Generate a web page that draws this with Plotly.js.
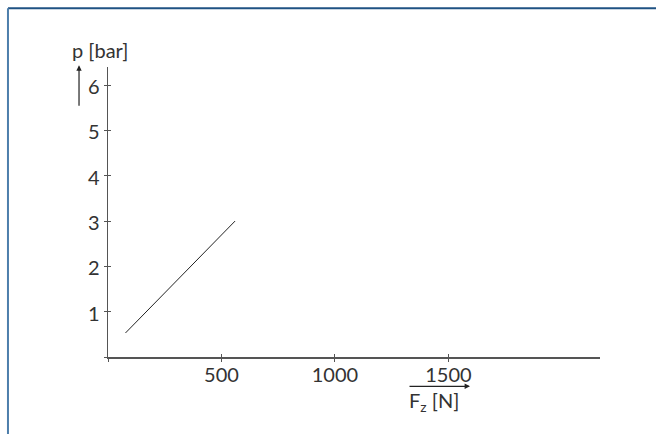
<!DOCTYPE html>
<html>
<head>
<meta charset="utf-8">
<script src="https://cdn.plot.ly/plotly-3.0.1.min.js"></script>
<style>html,body{margin:0;padding:0;background:#fff;}#chart{width:656px;height:434px;}</style>
</head>
<body>
<div id="chart"></div>
<script>
// Data
const forceN = [77, 560];
const pressureBar = [0.53, 3.0];
const xTickVals = [0, 500, 1000, 1500];
const xTickText = ['', '500', '1000', '1500'];
const yTickVals = [0, 1, 2, 3, 4, 5, 6];
const yTickText = ['', '1', '2', '3', '4', '5', '6'];
const yLabel = 'p [bar]';
const xLabel = 'F<sub>z</sub> [N]';

const FONT = 'Lato, "Liberation Sans", sans-serif';
const TXT = '#333333';
const AX = '#555555';

const trace = {
  x: forceN, y: pressureBar, type: 'scatter', mode: 'lines',
  line: {color: '#222222', width: 1}, hoverinfo: 'skip', showlegend: false
};

const baseAxis = {
  showgrid: false, zeroline: false, showline: true, linecolor: AX, linewidth: 1.5,
  ticks: 'outside', ticklen: 3, tickwidth: 1, tickcolor: AX,
  tickmode: 'array', fixedrange: true,
  tickfont: {family: FONT, size: 20, color: TXT}
};

const layout = {
  width: 656, height: 434,
  margin: {l: 108, r: 56, t: 67, b: 77, pad: 0},
  paper_bgcolor: '#ffffff', plot_bgcolor: '#ffffff',
  font: {family: FONT, color: TXT},
  xaxis: Object.assign({}, baseAxis, {
    range: [0, 2168], tickvals: xTickVals, ticktext: xTickText,
    ticklabelstandoff: -4
  }),
  yaxis: Object.assign({}, baseAxis, {
    range: [0, 6.4], tickvals: yTickVals, ticktext: yTickText,
    ticklabelshift: 2, ticklabelstandoff: 0
  }),
  xaxis2: {
    overlaying: 'x', range: [0, 2168], tickmode: 'array', tickvals: xTickVals,
    showticklabels: false, ticks: 'inside', ticklen: 3, tickwidth: 1, tickcolor: AX,
    showgrid: false, zeroline: false, showline: false, fixedrange: true, anchor: 'y'
  },
  yaxis2: {
    overlaying: 'y', range: [0, 6.4], tickmode: 'array', tickvals: yTickVals,
    showticklabels: false, ticks: 'inside', ticklen: 3, tickwidth: 1, tickcolor: AX,
    showgrid: false, zeroline: false, showline: false, fixedrange: true, anchor: 'x'
  },
  shapes: [
    {type: 'line', xref: 'paper', yref: 'paper', x0: -0.2033, x1: 1.12, y0: 1.2024, y1: 1.2024,
     line: {color: '#1f5283', width: 2}, layer: 'above'},
    {type: 'line', xref: 'paper', yref: 'paper', x0: -0.2033, x1: -0.2033, y0: 1.2024, y1: -0.28,
     line: {color: '#4d7eab', width: 2}, layer: 'above'}
  ],
  annotations: [
    {xref: 'paper', yref: 'paper', x: -0.0163, y: 1.058, text: yLabel, showarrow: false,
     xanchor: 'center', yanchor: 'middle', font: {family: FONT, size: 20, color: TXT}},
    {xref: 'paper', yref: 'paper', x: -0.0589, y: 1.006, text: '', showarrow: true,
     ax: 0, ay: 42, arrowhead: 2, arrowsize: 0.9, arrowwidth: 1.2, arrowcolor: '#222222', standoff: 0, startstandoff: 0},
    {xref: 'paper', yref: 'paper', x: 0.6626, y: -0.1528, text: xLabel, showarrow: false,
     xanchor: 'center', yanchor: 'middle', font: {family: FONT, size: 20, color: TXT}},
    {xref: 'paper', yref: 'paper', x: 0.7358, y: -0.101, text: '', showarrow: true,
     ax: -62, ay: 0, arrowhead: 2, arrowsize: 0.9, arrowwidth: 1.2, arrowcolor: '#222222', standoff: 0, startstandoff: 0}
  ]
};

Plotly.newPlot('chart', [trace, {x: [], y: [], xaxis: 'x2', yaxis: 'y2', type: 'scatter', showlegend: false}], layout, {staticPlot: true, displayModeBar: false});
</script>
</body>
</html>
